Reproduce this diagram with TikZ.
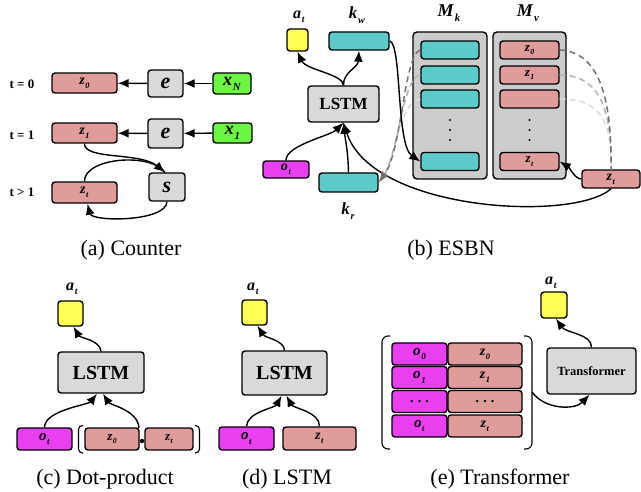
\documentclass[tikz,border=0pt]{standalone}
\usepackage{fontspec}
\setmainfont{Liberation Serif}
\usepackage{graphicx}
\usetikzlibrary{arrows.meta,backgrounds}
\definecolor{pinkc}{HTML}{DF9C9A}
\definecolor{greenc}{HTML}{6CF543}
\definecolor{tealc}{HTML}{5CCACA}
\definecolor{magc}{HTML}{E840F0}
\definecolor{yelc}{HTML}{FFFF55}
\definecolor{nodegray}{HTML}{D9D9D9}
\definecolor{contgray}{HTML}{CCCCCC}
% bold italic symbol with a lowered subscript
\newcommand{\vl}[2]{\textbf{\textit{#1}}\kern0.04em\raisebox{-0.6ex}{\scalebox{0.6}{\textbf{\textit{#2}}}}}
\newcommand{\fsz}[1]{\fontsize{#1}{#1}\selectfont}
\begin{document}
\begin{tikzpicture}[x=1pt,y=-1pt,
  box/.style={draw=black, line width=1.4pt, rounded corners=3pt, inner sep=0pt, align=center},
  pinkbox/.style={box, fill=pinkc},
  greenbox/.style={box, fill=greenc},
  tealbox/.style={box, fill=tealc},
  magbox/.style={box, fill=magc},
  yelbox/.style={box, fill=yelc},
  graybox/.style={box, fill=nodegray},
  contbox/.style={box, fill=contgray, rounded corners=4pt},
  tip/.style={-{Latex[length=11pt,width=9pt]}},
  arr/.style={line width=1.4pt, tip},
  plain/.style={line width=1.4pt},
  dsh/.style={line width=1.5pt, dash pattern=on 6pt off 4pt},
  tlab/.style={font=\fsz{13}\bfseries},
  vlab/.style={font=\fsz{16}},
  captxt/.style={font=\fsz{22}},
  brk/.style={line width=1.1pt, rounded corners=4pt}
]
\useasboundingbox (0,0) rectangle (641,492);

% ---------------- (a) Counter ----------------
\node[tlab] (t0) at (22,84) {t = 0};
\node[tlab] (t1) at (22,135) {t = 1};
\node[tlab] (t2) at (22,192) {t > 1};
\node[pinkbox, minimum width=65pt, minimum height=20pt, font=\fsz{14}] (az0) at (84.5,83) {\vl{z}{0}};
\node[graybox, minimum width=35pt, minimum height=27pt, font=\fsz{22}] (ae0) at (165.5,83.5) {\textbf{\textit{e}}};
\node[greenbox, minimum width=38pt, minimum height=21pt, font=\fsz{18}] (axn) at (232,83.5) {\vl{x}{N}};
\node[pinkbox, minimum width=65pt, minimum height=20pt, font=\fsz{14}] (az1) at (84.5,133) {\vl{z}{1}};
\node[graybox, minimum width=35pt, minimum height=29pt, font=\fsz{22}] (ae1) at (165.5,133.5) {\textbf{\textit{e}}};
\node[greenbox, minimum width=39pt, minimum height=20pt, font=\fsz{18}] (ax1) at (232.5,133) {\vl{x}{1}};
\node[pinkbox, minimum width=65pt, minimum height=21pt, font=\fsz{14}] (azt) at (84.5,192.5) {\vl{z}{t}};
\node[graybox, minimum width=36pt, minimum height=28pt, font=\fsz{22}] (as) at (167,187) {\textbf{\textit{s}}};

\draw[arr] (ae0) -- (az0);
\draw[arr] (axn) -- (ae0);
\draw[arr] (ae1) -- (az1);
\draw[arr] (ax1) -- (ae1);
\draw[arr] (az1.south) .. controls (84,160) and (140,152) .. ([xshift=-2pt]as.north);
\draw[plain] (azt.north) .. controls (84,158) and (150,152) .. ([xshift=-2pt]as.north);
\draw[arr] (as.south) .. controls (166,222) and (92,222) .. ([xshift=3pt]azt.south);

\node[captxt] (capa) at (131,250) {(a) Counter};

% ---------------- (b) ESBN ----------------
\node[yelbox, minimum width=21pt, minimum height=22pt] (bat) at (297.5,40) {};
\node[vlab] (batl) at (299,17) {\vl{a}{t}};
\node[tealbox, minimum width=60pt, minimum height=18pt] (bkw) at (359,41) {};
\node[vlab, font=\fsz{17}] (bkwl) at (357,15) {\vl{k}{w}};
\node[graybox, minimum width=71pt, minimum height=36pt, font=\fsz{17}\bfseries] (blstm) at (343.5,104) {LSTM};
\node[magbox, minimum width=46pt, minimum height=17pt, font=\fsz{14}] (bot) at (286,169.5) {\vl{o}{t}};
\node[tealbox, minimum width=59pt, minimum height=19pt] (bkr) at (348.5,182.5) {};
\node[vlab, font=\fsz{17}] (bkrl) at (348,211) {\vl{k}{r}};

\node[contbox, minimum width=74pt, minimum height=147pt] (mk) at (450,105.5) {};
\node[vlab, font=\fsz{18}] (mkl) at (449,13) {\vl{M}{k}};
\node[tealbox, minimum width=58pt, minimum height=18pt] (mk1) at (450,50) {};
\node[tealbox, minimum width=58pt, minimum height=18pt] (mk2) at (450,75) {};
\node[tealbox, minimum width=58pt, minimum height=18pt] (mk3) at (450,99) {};
\node[tealbox, minimum width=58pt, minimum height=18pt] (mk4) at (450,161.5) {};
\fill (450,120) circle (1.1pt) (450,130) circle (1.1pt) (450,140) circle (1.1pt);

\node[contbox, minimum width=73pt, minimum height=147pt] (mv) at (529.5,105.5) {};
\node[vlab, font=\fsz{18}] (mvl) at (528,13) {\vl{M}{v}};
\node[pinkbox, minimum width=59pt, minimum height=18pt, font=\fsz{13}] (mv1) at (529.5,50) {\vl{z}{0}};
\node[pinkbox, minimum width=59pt, minimum height=18pt, font=\fsz{13}] (mv2) at (529.5,75) {\vl{z}{1}};
\node[pinkbox, minimum width=59pt, minimum height=18pt] (mv3) at (529.5,99) {};
\node[pinkbox, minimum width=59pt, minimum height=18pt, font=\fsz{13}] (mv4) at (529.5,161.5) {\vl{z}{t}};
\fill (529.5,120) circle (1.1pt) (529.5,130) circle (1.1pt) (529.5,140) circle (1.1pt);

\node[pinkbox, minimum width=58pt, minimum height=18pt, font=\fsz{14}] (bzt) at (611,179) {\vl{z}{t}};

% dashed read-outs from memory
\draw[dsh, color=black!15] (mk3.west) .. controls (400,102) and (398,150) .. (382,180);
\draw[dsh, color=black!30] (mk2.west) .. controls (402,78) and (400,150) .. (382,180);
\draw[dsh, color=black!55, tip] (mk1.west) .. controls (404,54) and (402,150) .. (bkr.east);
\draw[dsh, color=black!15] (mv3.east) .. controls (600,99) and (612,120) .. (bzt.north);
\draw[dsh, color=black!30] (mv2.east) .. controls (600,75) and (612,110) .. (bzt.north);
\draw[dsh, color=black!55] (mv1.east) .. controls (600,52) and (612,100) .. (bzt.north);

\draw[arr] (blstm.north) .. controls (343,74) and (306,70) .. (bat.south);
\draw[arr] (blstm.north) .. controls (343,72) and (358,68) .. (bkw.south);
\draw[arr] (bot.north) .. controls (286,145) and (330,136) .. (blstm.south);
\draw[arr] (bkr.north) .. controls (348,150) and (345,138) .. (blstm.south);
% z_t feeds the LSTM, passing behind k_r
\begin{pgfonlayer}{background}
\draw[arr] (bzt.south) .. controls (575,222) and (372,212) .. (blstm.south);
\end{pgfonlayer}
\draw[arr] (bkw.east) .. controls (402,44) and (396,145) .. (mk4.west);
\draw[arr] (bzt.west) .. controls (575,179) and (570,168) .. (mv4.east);

\node[captxt] (capb) at (451,250) {(b) ESBN};

% ---------------- (c) Dot-product ----------------
\node[yelbox, minimum width=25pt, minimum height=25pt] (cat) at (70.5,313.5) {};
\node[vlab] (catl) at (72,289) {\vl{a}{t}};
\node[graybox, minimum width=86pt, minimum height=41pt, font=\fsz{20}\bfseries] (clstm) at (101,372.5) {LSTM};
\node[magbox, minimum width=55pt, minimum height=22pt, font=\fsz{15}] (cot) at (44.5,439) {\vl{o}{t}};
\node[pinkbox, minimum width=54pt, minimum height=22pt, font=\fsz{13}] (cz0) at (112,439) {\vl{z}{0}};
\node[pinkbox, minimum width=48pt, minimum height=22pt, font=\fsz{13}] (czt) at (169,439) {\vl{z}{t}};
\node[circle, fill=black, inner sep=0pt, minimum size=4.5pt] (cdot) at (142,441) {};
\coordinate (cdtop) at (139,428);
\draw[brk] (83,425.5) -- (78.5,425.5) -- (78.5,453) -- (83,453);
\draw[brk] (195,425.5) -- (199.5,425.5) -- (199.5,453) -- (195,453);
\draw[arr] (cot.north) .. controls (45,410) and (88,405) .. ([xshift=-4pt]clstm.south);
\draw[arr] (cdtop) .. controls (138,410) and (110,405) .. ([xshift=2pt]clstm.south);
\draw[arr] (clstm.north) .. controls (100,340) and (80,338) .. ([xshift=3pt]cat.south);

\node[captxt] (capc) at (105,479) {(c) Dot-product};

% ---------------- (d) LSTM ----------------
\node[yelbox, minimum width=25pt, minimum height=25pt] (dat) at (254.5,312.5) {};
\node[vlab] (datl) at (253,289) {\vl{a}{t}};
\node[graybox, minimum width=85pt, minimum height=44pt, font=\fsz{20}\bfseries] (dlstm) at (284.5,373) {LSTM};
\node[magbox, minimum width=55pt, minimum height=23pt, font=\fsz{15}] (dot) at (246.5,438.5) {\vl{o}{t}};
\node[pinkbox, minimum width=73pt, minimum height=23pt, font=\fsz{14}] (dzt) at (319.5,438.5) {\vl{z}{t}};
\draw[arr] (dot.north) .. controls (247,412) and (275,408) .. ([xshift=-3pt]dlstm.south);
\draw[arr] (dzt.north) .. controls (320,412) and (293,408) .. ([xshift=2pt]dlstm.south);
\draw[arr] (dlstm.north) .. controls (284,340) and (265,338) .. ([xshift=3pt]dat.south);

\node[captxt] (capd) at (287,479) {(d) LSTM};

% ---------------- (e) Transformer ----------------
\node[yelbox, minimum width=26pt, minimum height=26pt] (eat) at (554,305) {};
\node[vlab] (eatl) at (551,283) {\vl{a}{t}};
\node[graybox, minimum width=89pt, minimum height=46pt, font=\fsz{12.5}\bfseries] (etr) at (591.5,371) {Transformer};
\foreach \r/\yy/\s in {0/354/0, 1/377.5/1, 3/426/t}{
  \node[magbox, minimum width=55pt, minimum height=22pt, font=\fsz{15}] (eo\r) at (419.5,\yy) {\vl{o}{\s}};
  \node[pinkbox, minimum width=74pt, minimum height=22pt, font=\fsz{14}] (ez\r) at (485,\yy) {\vl{z}{\s}};
}
\node[magbox, minimum width=55pt, minimum height=22pt, font=\fsz{14}\bfseries] (eo2) at (419.5,401.5) {.\hspace{0.3em}.\hspace{0.3em}.};
\node[pinkbox, minimum width=74pt, minimum height=22pt, font=\fsz{14}\bfseries] (ez2) at (485,401.5) {.\hspace{0.3em}.\hspace{0.3em}.};
\draw[brk, rounded corners=6pt] (390,336) -- (382,336) -- (382,449) -- (390,449);
\draw[brk, rounded corners=6pt] (524,336) -- (532,336) -- (532,449) -- (524,449);
\coordinate (erb) at (532,392);
\draw[arr] (erb) .. controls (545,410) and (575,410) .. ([xshift=-2pt]etr.south);
\draw[arr] (etr.north) .. controls (592,334) and (566,333) .. ([xshift=2pt]eat.south);

\node[captxt] (cape) at (500,479) {(e) Transformer};
\end{tikzpicture}
\end{document}
